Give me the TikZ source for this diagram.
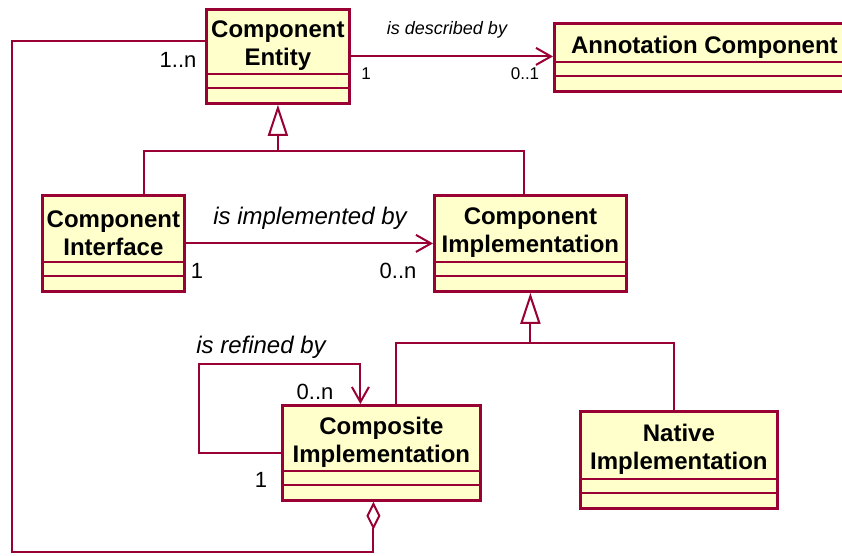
\documentclass[tikz,border=0pt]{standalone}
\usepackage{fontspec}
\setmainfont{Liberation Sans}
\usetikzlibrary{arrows.meta,calc}

\definecolor{rosered}{HTML}{990033}
\definecolor{rosefill}{HTML}{FFFFCC}

\tikzset{
  classbox/.style={draw=rosered, fill=rosefill, line width=2.8pt, inner sep=0pt},
  divline/.style={draw=rosered, line width=1.8pt},
  classname/.style={font=\bfseries\fontsize{24}{28}\selectfont, align=center, inner sep=0pt},
  conn/.style={draw=rosered, line width=2pt},
  assoc/.style={conn, -{Straight Barb[length=15pt,width=17pt,line width=2pt]}},
  gen/.style={conn, -{Triangle[open,fill=white,length=31pt,width=20pt,line width=2pt]}},
  aggr/.style={conn, {Diamond[open,fill=white,length=28pt,width=14pt,line width=2pt]}-},
  rolebig/.style={font=\itshape\fontsize{24}{28}\selectfont, inner sep=0pt},
  rolesmall/.style={font=\itshape\fontsize{18}{20}\selectfont, inner sep=0pt},
  mult/.style={font=\fontsize{22}{24}\selectfont, inner sep=0pt},
  multsmall/.style={font=\fontsize{17}{19}\selectfont, inner sep=0pt}
}

% class box: name, north west corner, width, height, title
\newcommand{\umlclass}[5]{%
  \node[classbox, minimum width=#3, minimum height=#4, anchor=north west] (#1) at #2 {};
  \draw[divline] ([yshift=17pt]#1.south west) -- ([yshift=17pt]#1.south east);
  \draw[divline] ([yshift=31pt]#1.south west) -- ([yshift=31pt]#1.south east);
  \path ($(#1.north)!0.5!([yshift=31pt]#1.south)$) ++(0,5) node[classname] (#1-name) {#5};
}

\begin{document}
\begin{tikzpicture}[x=1pt, y=-1pt]
\useasboundingbox (0,0) rectangle (842,555);

%classes
\umlclass{entity}{(205,8)}{143pt}{94pt}{Component\\Entity}
\umlclass{annot}{(553,22)}{300pt}{68pt}{Annotation Component}
\umlclass{iface}{(41,194)}{142pt}{96pt}{Component\\Interface}
\umlclass{impl}{(433,194)}{192pt}{96pt}{Component\\Implementation}
\umlclass{comp}{(281,404)}{198pt}{95pt}{Composite\\Implementation}
\umlclass{native}{(579,410)}{197pt}{97pt}{Native\\Implementation}

%is described by
\draw[assoc] (entity.east) -- (entity.east -| annot.west);
\node[rolesmall] (descr) at (447,30) {is described by};
\node[multsmall] (descr-a) at (366,74) {1};
\node[multsmall] (descr-b) at (525,74) {0..1};

%generalization of the entity
\coordinate (g1) at ([yshift=-46pt]entity.south);
\draw[conn] ([xshift=31pt]iface.north) |- (g1) -| ([xshift=-6pt]impl.north);
\draw[gen] (g1) -- (entity.south);

%is implemented by
\draw[assoc] (iface.east) -- (impl.west);
\node[rolebig] (implby) at (310,218) {is implemented by};
\node[mult] (implby-a) at (197,271) {1};
\node[mult] (implby-b) at (398,271) {0..n};

%generalization of the implementation
\coordinate (g2) at ([yshift=-50pt]impl.south);
\draw[conn] ([xshift=15pt]comp.north) |- (g2) -| ([xshift=-4.5pt]native.north);
\draw[gen] (g2) -- (impl.south);

%is refined by
\coordinate (loop) at (199,364);
\draw[assoc] (comp.west) -| (loop) -| ([xshift=-21pt]comp.north);
\node[rolebig] (refby) at (261,347) {is refined by};
\node[mult] (refby-b) at (315,392) {0..n};
\node[mult] (refby-a) at (261,480) {1};

%aggregation back to the entity
\coordinate (agg) at (12,552);
\draw[aggr] ([xshift=-8pt]comp.south) |- (agg) |- ([yshift=15pt]entity.west);
\node[mult] (aggr-n) at (178,60) {1..n};

\end{tikzpicture}
\end{document}
